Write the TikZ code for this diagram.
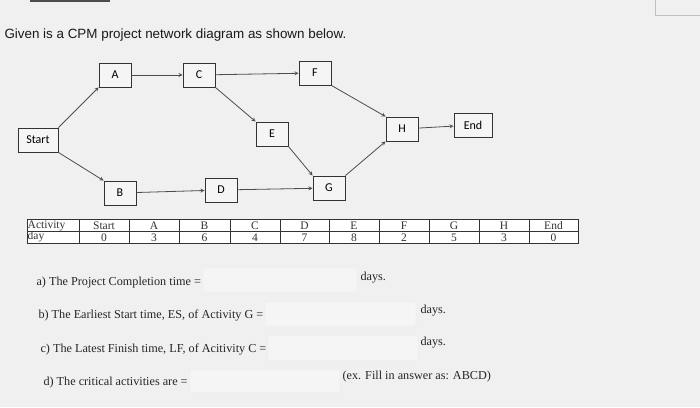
\documentclass[tikz,border=0pt]{standalone}
\usepackage{fontspec}
\setmainfont{Liberation Serif}
\newfontfamily\arialf{Liberation Sans}
\newfontfamily\calf{Carlito}
\begin{document}
\begin{tikzpicture}[x=1pt,y=-1pt,
  act/.style={draw=black!80,line width=0.9pt,fill=white!92!gray,font=\calf\fontsize{12}{13}\selectfont,minimum height=24pt,inner sep=2pt},
  arr/.style={draw=black!70,line width=0.8pt,-stealth},
  cell/.style={font=\fontsize{11.5}{12}\selectfont,text=black!80},
  inbox/.style={draw=black!8,fill=gray!8,rounded corners=1pt},
  q/.style={font=\fontsize{12.2}{13}\selectfont,anchor=west,text=black!85}]
\fill[gray!12] (0,0) rectangle (700,407);
\useasboundingbox (0,0) rectangle (700,407);
\draw[black!70,line width=2pt] (30,1) -- (110,1);
\draw[gray!50,line width=0.8pt] (655,-2) -- (655,15) -- (702,15);
\node[anchor=west,font=\arialf\fontsize{13.4}{15}\selectfont,text=black!90] (title) at (1,35) {Given is a CPM project network diagram as shown below.};
\node[act,minimum width=40pt] (S) at (38,140) {Start};
\node[act,minimum width=32pt] (A) at (115,75) {A};
\node[act,minimum width=32pt] (C) at (199,75) {C};
\node[act,minimum width=32pt] (F) at (315,73) {F};
\node[act,minimum width=32pt] (E) at (272,134) {E};
\node[act,minimum width=32pt] (H) at (402,129) {H};
\node[act,minimum width=38pt] (End) at (473,125) {End};
\node[act,minimum width=32pt] (B) at (120,193) {B};
\node[act,minimum width=32pt] (D) at (221,190) {D};
\node[act,minimum width=32pt] (G) at (329,188) {G};
\draw[arr] (S.north east) -- (A.south west);
\draw[arr] (S.south east) -- (B.north west);
\draw[arr] (A) -- (C);
\draw[arr] (C) -- (F);
\draw[arr] (C.south east) -- (E.north west);
\draw[arr] (B) -- (D);
\draw[arr] (D) -- (G);
\draw[arr] (E.south east) -- (G.north west);
\draw[arr] (F.south east) -- (H.north west);
\draw[arr] (G.north east) -- (H.south west);
\draw[arr] (H) -- (End);
% table
\fill[white] (27,219) rectangle (578,243);
\draw[black!80,line width=0.6pt] (27,219) rectangle (578,243);
\draw[black!80,line width=1pt] (27,231.5) -- (578,231.5);
\foreach \x in {79,129,179,230,280,329,379,429,479,529} \draw[black!80,line width=0.8pt] (\x,219) -- (\x,243);
\node[cell,anchor=west,inner sep=0.5pt] (t0) at (27,225.5) {Activity};
\node[cell,anchor=west,inner sep=0.5pt] (t1) at (27,237) {day};
\foreach \n/\v [count=\i] in {Start/0,A/3,B/6,C/4,D/7,E/8,F/2,G/5,H/3,End/0}{
  \pgfmathsetmacro{\cx}{{54,104,154,204.5,255,304.5,354,404,454,504,553.5}[\i]}
  \node[cell] (h\i) at (\cx,225.5) {\n};
  \node[cell] (v\i) at (\cx,237.5) {\v};
}
% questions
\node[q] (qa) at (33,283) {a) The Project Completion time =};
\node[inbox,minimum width=154pt,minimum height=24pt] (ba) at (280,280) {};
\node[q] (da) at (357,278) {days.};
\node[q] (qb) at (35,316) {b) The Earliest Start time, ES, of Activity G =};
\node[inbox,minimum width=151pt,minimum height=24pt] (bb) at (340.5,314) {};
\node[q] (db) at (417,311) {days.};
\node[q] (qc) at (37,350) {c) The Latest Finish time, LF, of Acitivity C =};
\node[inbox,minimum width=150pt,minimum height=24pt] (bc) at (343,348) {};
\node[q] (dc) at (417,343) {days.};
\node[q] (qd) at (40,383) {d) The critical activities are =};
\node[inbox,minimum width=150pt,minimum height=22pt] (bd) at (265,381) {};
\node[q] (ex) at (339,377) {(ex. Fill in answer as: ABCD)};
\end{tikzpicture}
\end{document}
